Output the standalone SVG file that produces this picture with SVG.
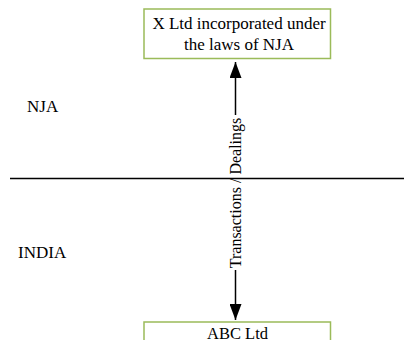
<svg xmlns="http://www.w3.org/2000/svg" width="405" height="340" viewBox="0 0 405 340">
<style>
text{font-family:"Liberation Serif","Times New Roman",serif;fill:#000}
.box{fill:#fff;stroke:#9BBB59;stroke-width:1.5}
.ln{stroke:#000;stroke-width:1.5;fill:none}
</style>
<defs>
<marker id="ah" viewBox="0 0 16 12" refX="16" refY="6" markerWidth="16" markerHeight="12" markerUnits="userSpaceOnUse" orient="auto">
<path d="M0,0 L16,6 L0,12 Z" fill="#000"/>
</marker>
</defs>
<rect width="405" height="340" fill="#fff"/>
<g id="region-labels">
<text x="27" y="112" font-size="17">NJA</text>
<text x="18" y="258" font-size="17">INDIA</text>
</g>
<g id="connectors">
<line class="ln" x1="10" y1="178.5" x2="404" y2="178.5"/>
<line class="ln" x1="235.5" y1="115" x2="235.5" y2="62" marker-end="url(#ah)"/>
<line class="ln" x1="235.5" y1="270" x2="235.5" y2="320" marker-end="url(#ah)"/>
<text transform="translate(241,193) rotate(-90)" text-anchor="middle" font-size="16">Transactions / Dealings</text>
</g>
<g id="x-ltd">
<rect class="box" x="144" y="9" width="186.5" height="49.5"/>
<text x="239" y="29" font-size="17" text-anchor="middle">X Ltd incorporated under</text>
<text x="239" y="50" font-size="17" text-anchor="middle">the laws of NJA</text>
</g>
<g id="abc-ltd">
<rect class="box" x="144" y="322" width="186.5" height="40"/>
<text x="237.5" y="338.5" font-size="16.5" text-anchor="middle">ABC Ltd</text>
</g>
</svg>
